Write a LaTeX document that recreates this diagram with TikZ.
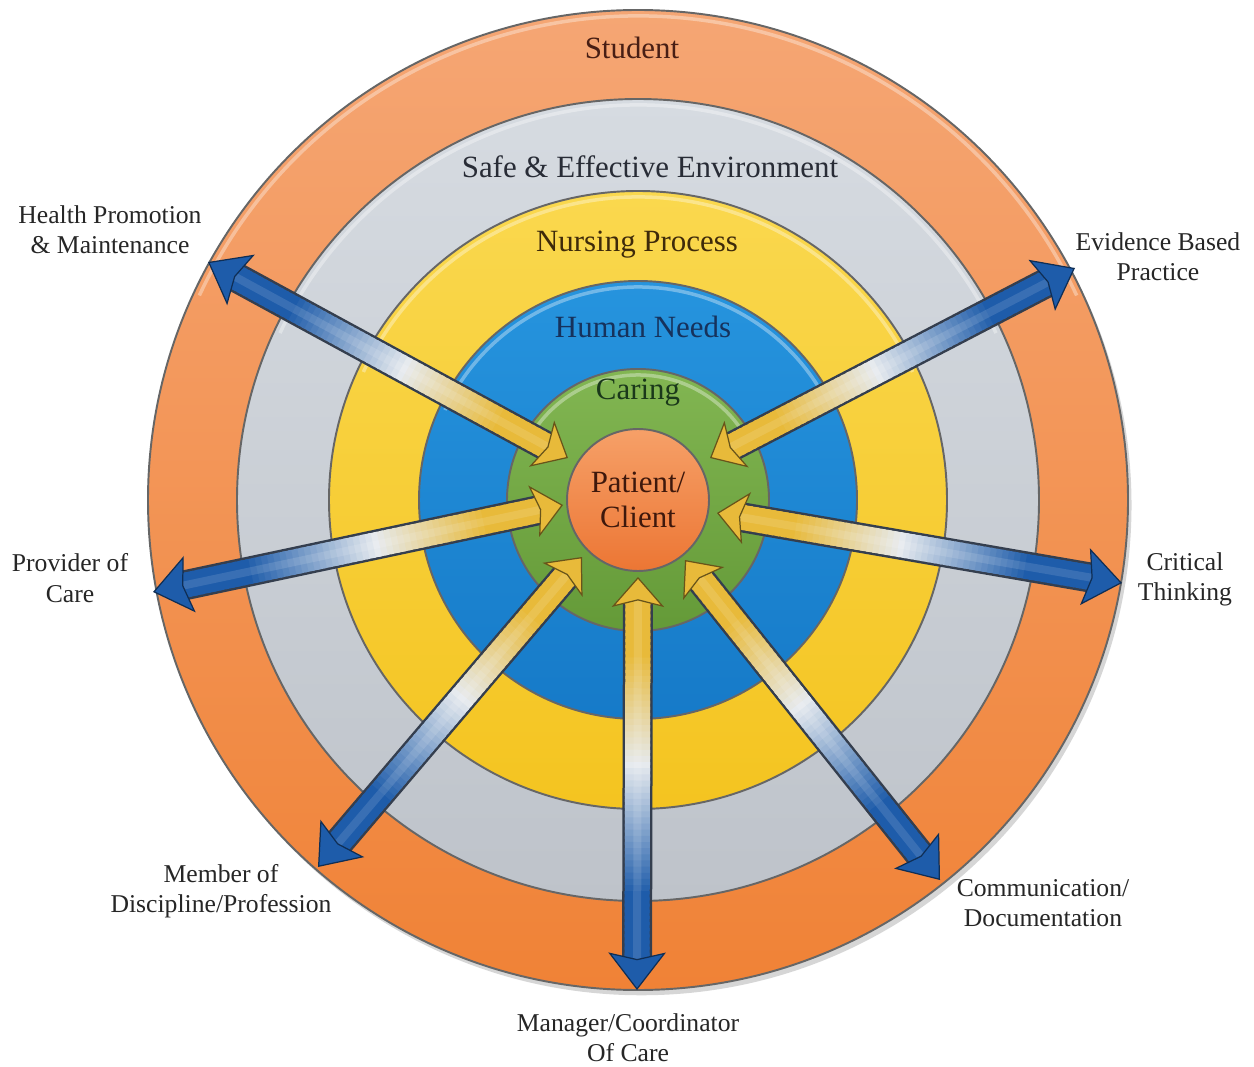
\documentclass[tikz,border=0pt]{standalone}
\usepackage{fontspec}
\setmainfont{Liberation Serif}
\usepackage{tikz}
\usepackage{xcolor}
\usetikzlibrary{calc, arrows.meta, shadows}
\definecolor{studorangeT}{RGB}{245,166,116}
\definecolor{studorangeB}{RGB}{240,130,54}
\definecolor{safegrayT}{RGB}{214,219,225}
\definecolor{safegrayB}{RGB}{190,195,202}
\definecolor{nursyellowT}{RGB}{250,216,78}
\definecolor{nursyellowB}{RGB}{244,196,32}
\definecolor{needblueT}{RGB}{38,148,222}
\definecolor{needblueB}{RGB}{22,122,200}
\definecolor{caregreenT}{RGB}{130,182,82}
\definecolor{caregreenB}{RGB}{100,154,56}
\definecolor{coreorangeT}{RGB}{246,160,104}
\definecolor{coreorangeB}{RGB}{236,118,52}
\definecolor{spokegold}{RGB}{232,186,58}
\definecolor{spokelight}{RGB}{230,234,238}
\definecolor{spokeblue}{RGB}{30,92,170}
\definecolor{spokeedge}{RGB}{52,62,78}
\tikzset{
    ringdisk/.style={draw=black!60, line width=1.1pt},
    bevel/.style={draw=white, line width=.07cm, opacity=.35},
    ringtext/.style={font=\fontsize{17.6}{21}\selectfont},
    sidetext/.style={font=\fontsize{14.6}{17.2}\selectfont, align=center, text=black!85},
    coredisk/.style={circle, draw=black!60, line width=1.1pt, minimum size=2.84cm,
        top color=coreorangeT, bottom color=coreorangeB, align=center,
        font=\fontsize{17.6}{19.8}\selectfont, text={rgb,255:red,62;green,24;blue,12}},
    spokeshadow/.style={line width=.6cm, draw=spokeedge},
    spokebody/.style={line width=.5cm},
    spokesheen/.style={line width=.16cm, draw=white, opacity=.12},
    innerhead/.style={line width=.7pt, draw=spokegold,
        -{Stealth[length=.6cm, width=1.05cm, inset=.13cm, color=spokegold!45!black, fill=spokegold]}},
    outerhead/.style={line width=.7pt, draw=spokeblue,
        -{Stealth[length=.75cm, width=1.15cm, inset=.13cm, color=spokeblue!50!black, fill=spokeblue]}}
}
\newcommand{\carespoke}[2]{% #1 inner tip, #2 outer tip
    \coordinate (sA) at ($(#1)!.38cm!(#2)$);
    \coordinate (sB) at ($(#2)!.5cm!(#1)$);
    \draw[spokeshadow] (sA) -- (sB);
    \foreach \k in {0,...,59}{
        \pgfmathsetmacro\t{\k/60}
        \ifdim\t pt<0.45pt
            \pgfmathsetmacro\w{min(100,(0.45-\t)/0.3*100)}
            \def\spokecol{spokegold!\w!spokelight}
        \else
            \pgfmathsetmacro\w{min(100,(\t-0.45)/0.35*100)}
            \def\spokecol{spokeblue!\w!spokelight}
        \fi
        \draw[spokebody, draw=\spokecol] ($(sA)!{\k/60}!(sB)$) -- ($(sA)!{(\k+1.5)/60}!(sB)$);
    }
    \draw[spokesheen] (sA) -- (sB);
    \draw[innerhead] (sA) -- (#1);
    \draw[outerhead] (sB) -- (#2);
}

\begin{document}
\begin{tikzpicture}[x=0.02cm, y=0.02cm]
    \fill[white] (0,0) rectangle (1254,1066);
    \useasboundingbox (0,0) rectangle (1254,1066);
    \coordinate (hub) at (638,566);

    % rings, outside in
    \draw[ringdisk, top color=studorangeT, bottom color=studorangeB,
        drop shadow={shadow xshift=2pt, shadow yshift=-3pt, fill=black!45, opacity=.35}] (hub) circle[radius=490];
    \draw[bevel] ([shift={(155:484)}]hub) arc[start angle=155, end angle=25, radius=484];
    \draw[ringdisk, top color=safegrayT, bottom color=safegrayB] (hub) circle[radius=401];
    \draw[bevel] ([shift={(155:395)}]hub) arc[start angle=155, end angle=25, radius=395];
    \draw[ringdisk, top color=nursyellowT, bottom color=nursyellowB] (hub) circle[radius=309];
    \draw[bevel] ([shift={(155:303)}]hub) arc[start angle=155, end angle=25, radius=303];
    \draw[ringdisk, top color=needblueT, bottom color=needblueB] (hub) circle[radius=219];
    \draw[bevel] ([shift={(155:213)}]hub) arc[start angle=155, end angle=25, radius=213];
    \draw[ringdisk, top color=caregreenT, bottom color=caregreenB] (hub) circle[radius=131];
    \draw[bevel] ([shift={(155:125)}]hub) arc[start angle=155, end angle=25, radius=125];
    \node[coredisk] (core) at (hub) {Patient/\\Client};

    % ring labels
    \node[ringtext, text={rgb,255:red,72;green,30;blue,20}] (student) at (632,1018) {Student};
    \node[ringtext, text={rgb,255:red,40;green,44;blue,54}] (safe) at (650,899) {Safe \& Effective Environment};
    \node[ringtext, text={rgb,255:red,62;green,42;blue,10}] (nursing) at (637,821) {Nursing Process};
    \node[ringtext, text={rgb,255:red,22;green,50;blue,92}] (needs) at (643,739) {Human Needs};
    \node[ringtext, text={rgb,255:red,26;green,56;blue,26}] (caring) at (638,673) {Caring};

    % spoke end points
    \coordinate (hpmIn) at (568,608);  \coordinate (hpmOut) at (208,804);
    \coordinate (ebpIn) at (710,608);  \coordinate (ebpOut) at (1075,798);
    \coordinate (provIn) at (563,561); \coordinate (provOut) at (153,474);
    \coordinate (critIn) at (717,553); \coordinate (critOut) at (1122,483);
    \coordinate (membIn) at (582,509); \coordinate (membOut) at (318,199);
    \coordinate (mgrIn) at (638,489);  \coordinate (mgrOut) at (637,76);
    \coordinate (commIn) at (685,506); \coordinate (commOut) at (940,186);

    \carespoke{hpmIn}{hpmOut}
    \carespoke{ebpIn}{ebpOut}
    \carespoke{provIn}{provOut}
    \carespoke{critIn}{critOut}
    \carespoke{membIn}{membOut}
    \carespoke{mgrIn}{mgrOut}
    \carespoke{commIn}{commOut}

    % outside labels
    \node[sidetext] (hpm) at (110,836) {Health Promotion\\\& Maintenance};
    \node[sidetext] (ebp) at (1158,809) {Evidence Based\\Practice};
    \node[sidetext] (prov) at (70,488) {Provider of\\Care};
    \node[sidetext] (crit) at (1185,487) {Critical\\Thinking};
    \node[sidetext] (memb) at (221,175) {Member of\\Discipline/Profession};
    \node[sidetext] (mgr) at (628,28) {Manager/Coordinator\\Of Care};
    \node[sidetext] (comm) at (1043,163) {Communication/\\Documentation};
\end{tikzpicture}
\end{document}
